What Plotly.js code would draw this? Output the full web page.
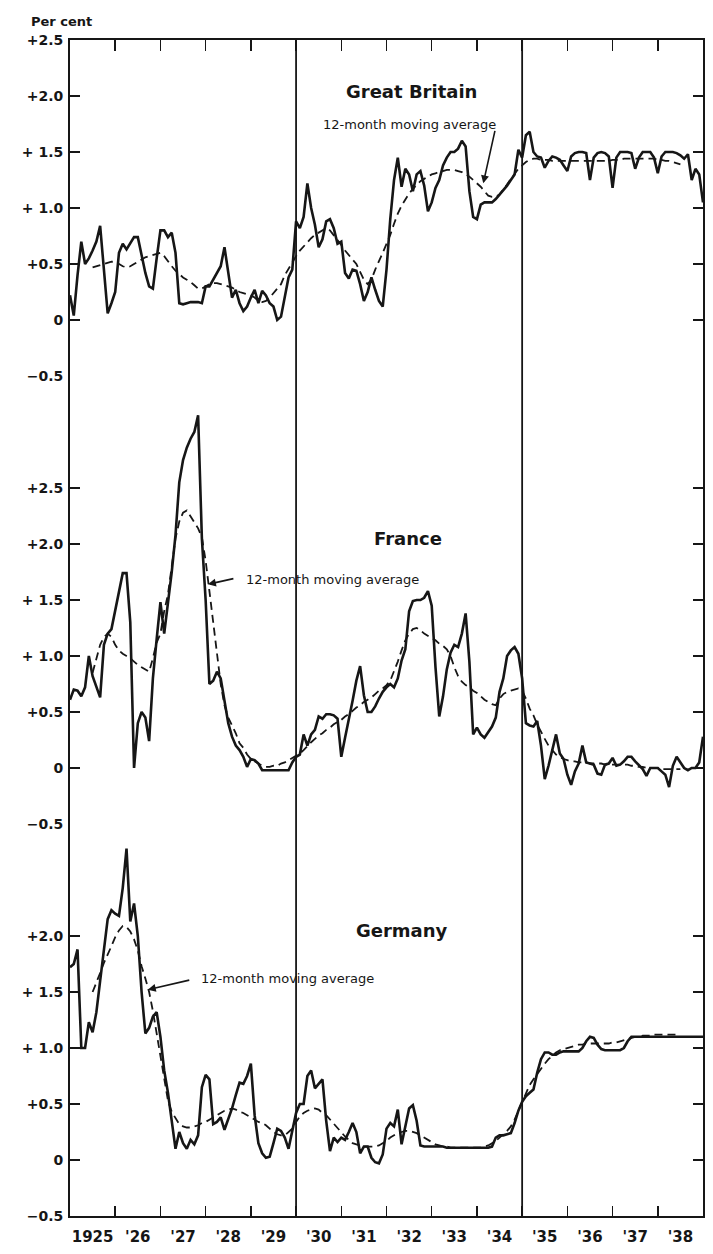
<!DOCTYPE html>
<html>
<head>
<meta charset="utf-8">
<script src="https://cdn.plot.ly/plotly-3.0.1.min.js"></script>
<style>
  html, body { margin: 0; padding: 0; background: #ffffff; }
  #chart { width: 713px; height: 1254px; }
</style>
</head>
<body>
<div id="chart"></div>
<script>
// ---------------- DATA (monthly, Jan 1925 onward) ----------------
const startYear = 1925;
const endYear = 1939;
const maFirstMonth = 6;          // 12-month centred average starts 6 months in
const dividerYears = [1930, 1935];

const yearLabels = ["1925", "'26", "'27", "'28", "'29", "'30", "'31", "'32", "'33", "'34", "'35", "'36", "'37", "'38"];

const gbMonthly = [
  0.22,0.04,0.40,0.70,0.50,0.55,0.62,0.70,0.84,0.45,0.06,0.15,
  0.25,0.60,0.68,0.63,0.68,0.74,0.74,0.58,0.42,0.30,0.28,0.55,
  0.80,0.80,0.74,0.78,0.60,0.15,0.14,0.15,0.16,0.16,0.16,0.15,
  0.30,0.30,0.36,0.42,0.48,0.65,0.40,0.20,0.27,0.15,0.08,0.12,
  0.20,0.27,0.15,0.26,0.22,0.15,0.12,0.00,0.03,0.20,0.38,0.45,
  0.88,0.82,0.92,1.22,1.00,0.85,0.65,0.72,0.88,0.90,0.82,0.68,
  0.70,0.42,0.37,0.45,0.44,0.32,0.17,0.25,0.38,0.27,0.17,0.12,
  0.45,0.90,1.25,1.45,1.19,1.35,1.30,1.15,1.30,1.33,1.20,0.97,
  1.05,1.18,1.25,1.38,1.45,1.50,1.50,1.53,1.60,1.55,1.15,0.92,
  0.90,1.03,1.05,1.05,1.05,1.08,1.12,1.15,1.20,1.25,1.30,1.52,
  1.45,1.65,1.68,1.50,1.46,1.45,1.36,1.42,1.46,1.45,1.43,1.38,
  1.33,1.46,1.49,1.50,1.50,1.49,1.25,1.45,1.49,1.50,1.49,1.46,
  1.18,1.45,1.50,1.50,1.50,1.49,1.35,1.45,1.50,1.50,1.50,1.45,
  1.31,1.46,1.50,1.50,1.50,1.49,1.47,1.44,1.48,1.25,1.35,1.30,
  1.05
];
const gbAverage = [
  0.47,0.48,0.49,0.50,0.51,0.52,
  0.52,0.50,0.48,0.47,0.48,0.50,0.52,0.54,0.56,0.57,0.58,0.59,
  0.60,0.57,0.52,0.48,0.44,0.41,0.38,0.36,0.34,0.31,0.28,0.28,
  0.30,0.32,0.33,0.33,0.32,0.31,0.30,0.29,0.27,0.25,0.24,0.23,
  0.22,0.20,0.17,0.16,0.17,0.20,0.24,0.28,0.32,0.40,0.46,0.52,
  0.57,0.62,0.66,0.69,0.73,0.76,0.78,0.80,0.82,0.80,0.76,0.72,
  0.67,0.62,0.58,0.54,0.50,0.43,0.36,0.32,0.36,0.45,0.52,0.60,
  0.68,0.76,0.86,0.95,1.02,1.08,1.13,1.17,1.21,1.24,1.26,1.28,
  1.30,1.31,1.32,1.33,1.34,1.34,1.34,1.33,1.32,1.30,1.28,1.25,
  1.22,1.19,1.15,1.11,1.10,1.10,1.12,1.16,1.21,1.26,1.31,1.35,
  1.38,1.41,1.43,1.44,1.44,1.43,1.43,1.43,1.42,1.42,1.42,1.42,
  1.42,1.42,1.42,1.42,1.42,1.42,1.42,1.42,1.42,1.42,1.42,1.42,
  1.43,1.43,1.43,1.44,1.44,1.44,1.44,1.44,1.44,1.44,1.44,1.44,
  1.43,1.43,1.42,1.42,1.41,1.40,1.39
];

const franceMonthly = [
  0.61,0.70,0.69,0.64,0.72,1.00,0.82,0.72,0.63,1.10,1.20,1.24,
  1.40,1.58,1.74,1.74,1.30,0.00,0.40,0.50,0.45,0.24,0.80,1.15,
  1.48,1.20,1.45,1.75,2.08,2.55,2.75,2.86,2.94,3.00,3.15,2.05,
  1.50,0.75,0.78,0.86,0.80,0.58,0.40,0.28,0.20,0.16,0.10,0.01,
  0.08,0.07,0.04,-0.02,-0.02,-0.02,-0.02,-0.02,-0.02,-0.02,-0.02,0.05,
  0.10,0.12,0.30,0.20,0.30,0.34,0.46,0.44,0.48,0.48,0.47,0.44,
  0.10,0.27,0.42,0.60,0.78,0.91,0.65,0.50,0.50,0.55,0.62,0.68,
  0.72,0.75,0.72,0.80,0.96,1.06,1.40,1.49,1.50,1.50,1.52,1.58,
  1.45,0.90,0.46,0.64,0.88,1.03,1.10,1.08,1.20,1.38,0.95,0.30,
  0.36,0.30,0.27,0.32,0.37,0.45,0.68,0.80,1.00,1.05,1.08,1.02,
  0.80,0.40,0.38,0.37,0.42,0.20,-0.10,0.02,0.16,0.30,0.13,0.08,
  -0.06,-0.15,-0.03,0.04,0.20,0.05,0.04,0.03,-0.05,-0.06,0.03,0.04,
  0.09,0.02,0.03,0.06,0.10,0.10,0.06,0.02,-0.01,-0.07,0.00,0.00,
  0.00,-0.03,-0.06,-0.17,0.02,0.10,0.05,0.00,-0.02,0.00,0.00,0.05,
  0.28
];
const franceAverage = [
  0.85,0.98,1.10,1.17,1.20,1.17,
  1.10,1.05,1.02,1.00,0.98,0.95,0.92,0.90,0.88,0.86,0.98,1.12,
  1.20,1.40,1.55,1.80,2.05,2.20,2.28,2.30,2.25,2.20,2.14,2.06,
  1.85,1.58,1.30,1.00,0.75,0.56,0.45,0.38,0.31,0.22,0.18,0.12,
  0.08,0.06,0.04,0.02,0.01,0.01,0.02,0.02,0.04,0.05,0.07,0.09,
  0.11,0.13,0.16,0.20,0.23,0.26,0.29,0.31,0.34,0.36,0.39,0.41,
  0.43,0.46,0.48,0.51,0.54,0.56,0.59,0.61,0.63,0.66,0.69,0.71,
  0.74,0.78,0.86,0.95,1.05,1.14,1.20,1.24,1.25,1.23,1.20,1.18,
  1.16,1.14,1.11,1.09,1.06,1.00,0.90,0.82,0.77,0.74,0.72,0.69,
  0.67,0.64,0.61,0.59,0.57,0.56,0.62,0.66,0.68,0.69,0.70,0.71,
  0.69,0.62,0.53,0.47,0.39,0.32,0.26,0.20,0.16,0.12,0.10,0.08,
  0.07,0.06,0.06,0.05,0.05,0.05,0.04,0.04,0.04,0.04,0.03,0.03,
  0.03,0.03,0.03,0.03,0.03,0.02,0.02,0.01,0.01,0.00,0.00,0.00,
  0.00,-0.01,-0.01,-0.01,-0.01,-0.01,-0.01
];

const germanyMonthly = [
  1.72,1.75,1.88,1.00,1.00,1.23,1.14,1.32,1.60,1.86,2.15,2.23,
  2.20,2.18,2.43,2.78,2.13,2.29,2.00,1.50,1.13,1.18,1.28,1.32,
  1.10,0.80,0.60,0.35,0.10,0.25,0.15,0.10,0.18,0.14,0.22,0.65,
  0.76,0.72,0.32,0.34,0.38,0.27,0.36,0.46,0.58,0.69,0.68,0.75,
  0.86,0.40,0.15,0.06,0.02,0.03,0.15,0.28,0.26,0.20,0.10,0.25,
  0.42,0.50,0.50,0.75,0.80,0.64,0.68,0.72,0.35,0.08,0.20,0.16,
  0.20,0.18,0.25,0.33,0.25,0.06,0.12,0.12,0.02,-0.02,-0.03,0.05,
  0.28,0.33,0.30,0.45,0.14,0.30,0.46,0.49,0.35,0.13,0.12,0.12,
  0.12,0.12,0.12,0.12,0.11,0.11,0.11,0.11,0.11,0.11,0.11,0.11,
  0.11,0.11,0.11,0.11,0.12,0.20,0.22,0.22,0.23,0.24,0.33,0.44,
  0.52,0.57,0.60,0.63,0.78,0.90,0.96,0.96,0.94,0.94,0.96,0.97,
  0.97,0.97,0.97,0.97,1.00,1.06,1.10,1.09,1.03,0.99,0.98,0.98,
  0.98,0.98,0.98,1.00,1.06,1.10,1.10,1.10,1.10,1.10,1.10,1.10,
  1.10,1.10,1.10,1.10,1.10,1.10,1.10,1.10,1.10,1.10,1.10,1.10,
  1.10
];
const germanyAverage = [
  1.50,1.58,1.67,1.76,1.83,1.91,
  1.99,2.05,2.09,2.08,2.04,1.97,1.87,1.73,1.62,1.50,1.33,1.13,
  0.92,0.72,0.53,0.43,0.37,0.32,0.30,0.29,0.29,0.30,0.31,0.33,
  0.34,0.36,0.38,0.40,0.42,0.44,0.45,0.46,0.45,0.43,0.42,0.40,
  0.38,0.36,0.34,0.33,0.31,0.28,0.25,0.23,0.22,0.22,0.25,0.28,
  0.34,0.39,0.42,0.44,0.45,0.46,0.45,0.42,0.40,0.36,0.32,0.28,
  0.24,0.21,0.18,0.15,0.14,0.13,0.12,0.12,0.12,0.12,0.13,0.15,
  0.17,0.20,0.22,0.24,0.25,0.26,0.26,0.25,0.24,0.22,0.20,0.18,
  0.16,0.14,0.13,0.12,0.12,0.11,0.11,0.11,0.11,0.11,0.11,0.11,
  0.11,0.11,0.12,0.13,0.15,0.17,0.20,0.23,0.26,0.30,0.36,0.44,
  0.52,0.60,0.67,0.72,0.77,0.82,0.86,0.90,0.93,0.96,0.98,0.99,
  1.00,1.01,1.02,1.03,1.03,1.04,1.04,1.04,1.04,1.04,1.04,1.04,
  1.05,1.05,1.06,1.07,1.08,1.09,1.10,1.10,1.11,1.11,1.11,1.12,
  1.12,1.12,1.12,1.12,1.12,1.12,1.12
];

// y tick labels per panel
const gbTickVals = [-0.5, 0, 0.5, 1, 1.5, 2, 2.5];
const gbTickText = ["\u22120.5", "0", "+0.5", "+ 1.0", "+ 1.5", "+2.0", "+2.5"];
const frTickVals = [-0.5, 0, 0.5, 1, 1.5, 2, 2.5];
const frTickText = ["\u22120.5", "0", "+0.5", "+ 1.0", "+ 1.5", "+2.0", "+2.5"];
const deTickVals = [-0.5, 0, 0.5, 1, 1.5, 2];
const deTickText = ["\u22120.5", "0", "+0.5", "+ 1.0", "+ 1.5", "+2.0"];

// ---------------- BUILD ----------------
const monthX = (i) => startYear + i / 12;
const xMonthly = (arr) => arr.map((_, i) => monthX(i));
const xAverage = (arr) => arr.map((_, i) => monthX(i + maFirstMonth));

const INK = '#161616';
const solid = { color: INK, width: 2.6, shape: 'linear' };
const dashed = { color: INK, width: 1.8, dash: '8px,5px', shape: 'linear' };

const traces = [
  { x: xMonthly(gbMonthly), y: gbMonthly, xaxis: 'x2', yaxis: 'y3', mode: 'lines', line: solid, name: 'Great Britain' },
  { x: xAverage(gbAverage), y: gbAverage, xaxis: 'x2', yaxis: 'y3', mode: 'lines', line: dashed, name: 'GB 12-month moving average' },
  { x: xMonthly(franceMonthly), y: franceMonthly, xaxis: 'x', yaxis: 'y2', mode: 'lines', line: solid, name: 'France' },
  { x: xAverage(franceAverage), y: franceAverage, xaxis: 'x', yaxis: 'y2', mode: 'lines', line: dashed, name: 'France 12-month moving average' },
  { x: xMonthly(germanyMonthly), y: germanyMonthly, xaxis: 'x', yaxis: 'y', mode: 'lines', line: solid, name: 'Germany' },
  { x: xAverage(germanyAverage), y: germanyAverage, xaxis: 'x', yaxis: 'y', mode: 'lines', line: dashed, name: 'Germany 12-month moving average' }
];

const years = [];
for (let y = startYear; y < endYear; y++) years.push(y);
const midYears = years.map(y => y + 0.5);
const innerYearStarts = years.slice(1);

const FONT = 'DejaVu Sans, Liberation Sans, sans-serif';
const tickFont = { family: FONT, size: 14, color: INK, weight: 'bold' };

const gbRange = [-0.5, 2.5], frRange = [-0.5, 3.5], deRange = [-0.5, 3.0];
const span = (r) => r[1] - r[0];
const total = span(gbRange) + span(frRange) + span(deRange);
const dTop1 = span(deRange) / total;
const dTop2 = (span(deRange) + span(frRange)) / total;

const yBase = {
  showline: true, linecolor: INK, linewidth: 2, mirror: 'ticks',
  ticks: 'inside', ticklen: 10, tickwidth: 1.5, tickcolor: INK,
  showgrid: false, zeroline: false, tickmode: 'array',
  tickfont: tickFont, ticklabelstandoff: 2, fixedrange: true
};

const layout = {
  width: 713, height: 1254,
  margin: { l: 70, r: 10, t: 40, b: 38 },
  paper_bgcolor: '#ffffff', plot_bgcolor: '#ffffff',
  showlegend: false,
  font: { family: FONT, color: INK },
  xaxis: {
    domain: [0, 1], anchor: 'y', range: [startYear, endYear],
    showline: true, linecolor: INK, linewidth: 2, mirror: false,
    showgrid: false, zeroline: false,
    tickmode: 'array', tickvals: midYears, ticktext: yearLabels, ticks: '',
    tickfont: { family: FONT, size: 15, color: INK, weight: 'bold' }, ticklabelstandoff: 6,
    minor: { tickmode: 'array', tickvals: innerYearStarts, ticks: 'inside', ticklen: 10, tickwidth: 1.5, tickcolor: INK, showgrid: false },
    fixedrange: true
  },
  xaxis2: {
    domain: [0, 1], anchor: 'y3', side: 'top', matches: 'x', range: [startYear, endYear],
    showline: true, linecolor: INK, linewidth: 2, mirror: false,
    showgrid: false, zeroline: false,
    tickmode: 'array', tickvals: innerYearStarts, ticks: 'inside', ticklen: 11, tickwidth: 1.5, tickcolor: INK,
    showticklabels: false, fixedrange: true
  },
  yaxis: Object.assign({}, yBase, { domain: [0, dTop1], range: deRange, tickvals: deTickVals, ticktext: deTickText, anchor: 'x' }),
  yaxis2: Object.assign({}, yBase, { domain: [dTop1, dTop2], range: frRange, tickvals: frTickVals, ticktext: frTickText, anchor: 'x' }),
  yaxis3: Object.assign({}, yBase, { domain: [dTop2, 1], range: gbRange, tickvals: gbTickVals, ticktext: gbTickText, anchor: 'x2' }),
  shapes: dividerYears.map(d => ({
    type: 'line', xref: 'x', yref: 'paper', x0: d, x1: d, y0: 0, y1: 1,
    line: { color: INK, width: 1.8 }
  })),
  annotations: [
    { xref: 'paper', yref: 'paper', x: -0.064, y: 1.016, xanchor: 'left', yanchor: 'middle',
      text: 'Per cent', showarrow: false, font: { family: FONT, size: 13, color: INK, weight: 'bold' } },

    { xref: 'x2', yref: 'y3', x: 1932.56, y: 2.04, text: 'Great Britain', showarrow: false,
      font: { family: FONT, size: 18, color: INK, weight: 'bold' } },
    { xref: 'x2', yref: 'y3', x: 1932.50, y: 1.75, text: '12-month moving average', showarrow: false,
      font: { family: FONT, size: 13, color: INK } },
    { xref: 'x2', yref: 'y3', x: 1934.14, y: 1.22, text: '', showarrow: true, arrowhead: 2, arrowsize: 1,
      arrowwidth: 1.6, arrowcolor: INK, ax: 12, ay: -54, standoff: 0 },

    { xref: 'x', yref: 'y2', x: 1932.48, y: 2.05, text: 'France', showarrow: false,
      font: { family: FONT, size: 18, color: INK, weight: 'bold' } },
    { xref: 'x', yref: 'y2', x: 1930.80, y: 1.68, text: '12-month moving average', showarrow: false,
      font: { family: FONT, size: 13, color: INK } },
    { xref: 'x', yref: 'y2', x: 1928.05, y: 1.64, text: '', showarrow: true, arrowhead: 2, arrowsize: 1,
      arrowwidth: 1.6, arrowcolor: INK, ax: 27, ay: -6, standoff: 0 },

    { xref: 'x', yref: 'y', x: 1932.35, y: 2.05, text: 'Germany', showarrow: false,
      font: { family: FONT, size: 18, color: INK, weight: 'bold' } },
    { xref: 'x', yref: 'y', x: 1929.80, y: 1.62, text: '12-month moving average', showarrow: false,
      font: { family: FONT, size: 13, color: INK } },
    { xref: 'x', yref: 'y', x: 1926.72, y: 1.52, text: '', showarrow: true, arrowhead: 2, arrowsize: 1,
      arrowwidth: 1.6, arrowcolor: INK, ax: 43, ay: -10, standoff: 0 }
  ]
};

Plotly.newPlot('chart', traces, layout, { displayModeBar: false, staticPlot: true });
</script>
</body>
</html>
